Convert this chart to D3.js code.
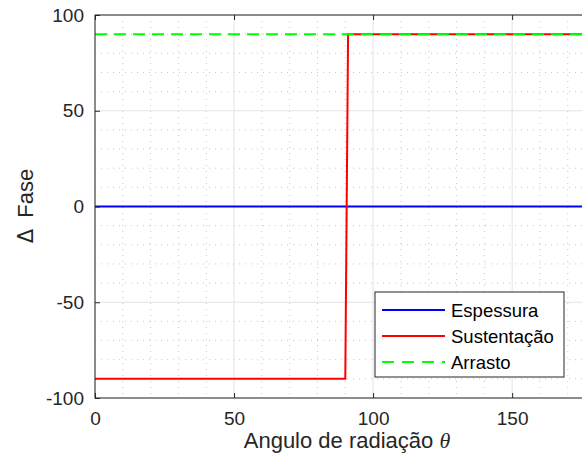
<!DOCTYPE html>
<html><head><meta charset="utf-8">
<script src="https://cdn.jsdelivr.net/npm/d3@7"></script>
<style>body{margin:0;background:#fff;} svg{display:block;font-family:"Liberation Sans",Arial,sans-serif;}</style>
</head><body>
<svg id="c" width="582" height="466"></svg>
<script>
const xDomain = [0, 180];
const yDomain = [-100, 100];
const xTicks = [0, 50, 100, 150];
const yTicks = [-100, -50, 0, 50, 100];
const espessuraTheta = [0, 180];
const espessuraValues = [0, 0];
const sustentacaoTheta = [0, 90, 91, 180];
const sustentacaoValues = [-90, -90, 90, 90];
const arrastoTheta = [0, 180];
const arrastoValues = [90, 90];
const seriesNames = ["Espessura", "Sustentação", "Arrasto"];
const seriesColors = ["#0000ff", "#ff0000", "#00ff00"];

const svg = d3.select("#c");
const L = 95, T = 15, B = 398, R = 95 + 180 * 2.781;
const x = d3.scaleLinear().domain(xDomain).range([L, R]);
const y = d3.scaleLinear().domain(yDomain).range([B, T]);
const fmt = d => String(d);

const g = svg.append("g");
// minor grid
const xMinor = d3.range(0, 181, 10).filter(v => v % 50 !== 0);
const yMinor = d3.range(-100, 101, 10).filter(v => v % 50 !== 0);
g.selectAll(".xm").data(xMinor).enter().append("line")
  .attr("x1", d => x(d)).attr("x2", d => x(d)).attr("y1", T).attr("y2", B)
  .attr("stroke", "#c8c8c8").attr("stroke-width", 1).attr("stroke-dasharray", "1,5");
g.selectAll(".ym").data(yMinor).enter().append("line")
  .attr("y1", d => y(d)).attr("y2", d => y(d)).attr("x1", L).attr("x2", R)
  .attr("stroke", "#c8c8c8").attr("stroke-width", 1).attr("stroke-dasharray", "1,5");
// major grid
g.selectAll(".xg").data(xTicks).enter().append("line")
  .attr("x1", d => x(d)).attr("x2", d => x(d)).attr("y1", T).attr("y2", B)
  .attr("stroke", "#e3e3e3").attr("stroke-width", 1);
g.selectAll(".yg").data(yTicks).enter().append("line")
  .attr("y1", d => y(d)).attr("y2", d => y(d)).attr("x1", L).attr("x2", R)
  .attr("stroke", "#e3e3e3").attr("stroke-width", 1);

// series
const line = d3.line().x(d => x(d[0])).y(d => y(d[1]));
const series = [
  {th: espessuraTheta, v: espessuraValues, dash: null},
  {th: sustentacaoTheta, v: sustentacaoValues, dash: null},
  {th: arrastoTheta, v: arrastoValues, dash: "12,7"}
];
series.forEach((s, i) => {
  svg.append("path").datum(s.th.map((t, k) => [t, s.v[k]]))
    .attr("d", line).attr("fill", "none").attr("stroke", seriesColors[i])
    .attr("stroke-width", 2).attr("stroke-dasharray", s.dash);
});

// axes box
const axCol = "#262626";
svg.append("rect").attr("x", L).attr("y", T).attr("width", R - L).attr("height", B - T)
  .attr("fill", "none").attr("stroke", axCol).attr("stroke-width", 1);
// ticks inward
const xa = svg.append("g").attr("transform", `translate(0,${B})`)
  .call(d3.axisBottom(x).tickValues(xTicks).tickSize(-5).tickPadding(14).tickFormat(fmt));
const xt = svg.append("g").attr("transform", `translate(0,${T})`)
  .call(d3.axisTop(x).tickValues(xTicks).tickSize(-5).tickFormat(""));
const ya = svg.append("g").attr("transform", `translate(${L},0)`)
  .call(d3.axisLeft(y).tickValues(yTicks).tickSize(-5).tickPadding(11).tickFormat(fmt));
[xa, xt, ya].forEach(a => {
  a.select(".domain").remove();
  a.selectAll("line").attr("stroke", axCol);
  a.selectAll("text").attr("fill", "#262626").style("font-size", "19px").style("font-family", "'Liberation Sans',Arial,sans-serif");
});

// axis labels
const xl = svg.append("text").attr("x", 347).attr("y", 448).attr("text-anchor", "middle")
  .attr("fill", "#262626").style("font-size", "22px");
xl.append("tspan").text("Angulo de radiação ");
xl.append("tspan").text("θ").style("font-style", "italic").style("font-family", "'Liberation Serif','DejaVu Serif',serif");
const yl = svg.append("text").attr("transform", "translate(33,206) rotate(-90)").attr("text-anchor", "middle")
  .attr("fill", "#262626").style("font-size", "22px");
yl.append("tspan").text("Δ").style("font-family", "'DejaVu Sans',sans-serif").style("font-size", "21px");
yl.append("tspan").attr("dx", 11).text("Fase");

// legend
const lg = svg.append("g");
lg.append("rect").attr("x", 375).attr("y", 292).attr("width", 189).attr("height", 85)
  .attr("fill", "#fff").attr("stroke", axCol).attr("stroke-width", 1);
const rowsY = [310, 336, 362];
seriesNames.forEach((n, i) => {
  lg.append("line").attr("x1", 382).attr("x2", 445).attr("y1", rowsY[i]).attr("y2", rowsY[i])
    .attr("stroke", seriesColors[i]).attr("stroke-width", 2)
    .attr("stroke-dasharray", i === 2 ? "12,8" : null);
  lg.append("text").attr("x", 451).attr("y", rowsY[i] + 7).attr("fill", "#000")
    .style("font-size", "18.5px").text(n);
});
</script>
</body></html>
